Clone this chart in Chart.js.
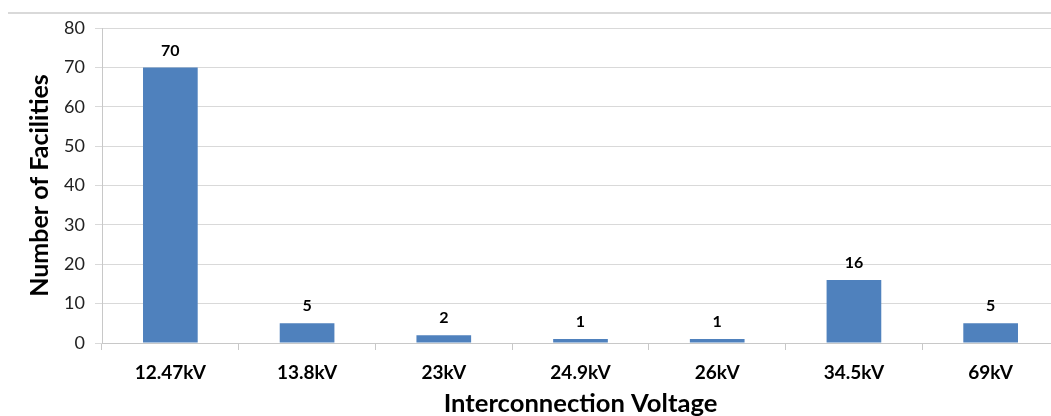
<!DOCTYPE html>
<html>
<head>
<meta charset="utf-8">
<script src="https://cdn.jsdelivr.net/npm/chart.js@4.4.1/dist/chart.umd.min.js"></script>
<style>
html, body { margin: 0; padding: 0; overflow: hidden; background: #fff; }
#frame { position: relative; width: 1066px; height: 440px; }
/* thin rule across the top of the chart block */
#frame:before { content: ''; position: absolute; left: 8px; right: 0; top: 12px; border-top: 2px solid #d9d9d9; }
</style>
</head>
<body>
<div id="frame"><canvas id="chart"></canvas></div>
<script>
// Facilities per interconnection voltage
const voltages = ['12.47kV', '13.8kV', '23kV', '24.9kV', '26kV', '34.5kV', '69kV'];
const facilities = [70, 5, 2, 1, 1, 16, 5];
const yMin = 0, yMax = 80, yStep = 10;

const FONT = "Lato, 'Open Sans', sans-serif";

// value labels above each bar
const barLabels = {
  id: 'barLabels',
  afterDatasetsDraw(chart) {
    const ctx = chart.ctx;
    const meta = chart.getDatasetMeta(0);
    ctx.save();
    ctx.font = "bold 16px " + FONT;
    ctx.fillStyle = '#000';
    ctx.textAlign = 'center';
    ctx.textBaseline = 'middle';
    meta.data.forEach((bar, i) => {
      ctx.fillText(String(chart.data.datasets[0].data[i]), bar.x, bar.y - 17);
    });
    ctx.restore();
  }
};

new Chart(document.getElementById('chart'), {
  type: 'bar',
  data: {
    labels: voltages,
    datasets: [{
      data: facilities,
      backgroundColor: '#4f81bd',
      borderWidth: 0,
      barPercentage: 0.4,
      categoryPercentage: 1.0
    }]
  },
  options: {
    responsive: true,
    maintainAspectRatio: false,
    animation: false,
    layout: { padding: { top: 28, right: 7, left: 0, bottom: 0 } },
    plugins: {
      legend: { display: false },
      tooltip: { enabled: false }
    },
    scales: {
      x: {
        afterFit: s => { s.height = 97; },
        grid: {
          offset: true,
          drawOnChartArea: false,
          tickLength: 7,
          color: '#c8c8c8'
        },
        border: { color: '#c8c8c8' },
        ticks: {
          padding: 11,
          color: '#000',
          maxRotation: 0,
          font: { family: FONT, size: 19, weight: 'bold' }
        },
        title: {
          display: true,
          text: 'Interconnection Voltage',
          color: '#000',
          padding: { bottom: 21 },
          font: { family: FONT, size: 25.6, weight: 'bold' }
        }
      },
      y: {
        min: yMin,
        max: yMax,
        afterFit: s => { s.width = 102; },
        grid: { color: '#d9d9d9', tickLength: 7 },
        border: { color: '#c8c8c8' },
        ticks: {
          stepSize: yStep,
          padding: 10,
          color: '#222',
          font: { family: FONT, size: 18 }
        },
        title: {
          display: true,
          text: 'Number of Facilities',
          color: '#000',
          padding: { top: 25 },
          font: { family: FONT, size: 25, weight: 'bold' }
        }
      }
    }
  },
  plugins: [barLabels]
});
</script>
</body>
</html>
